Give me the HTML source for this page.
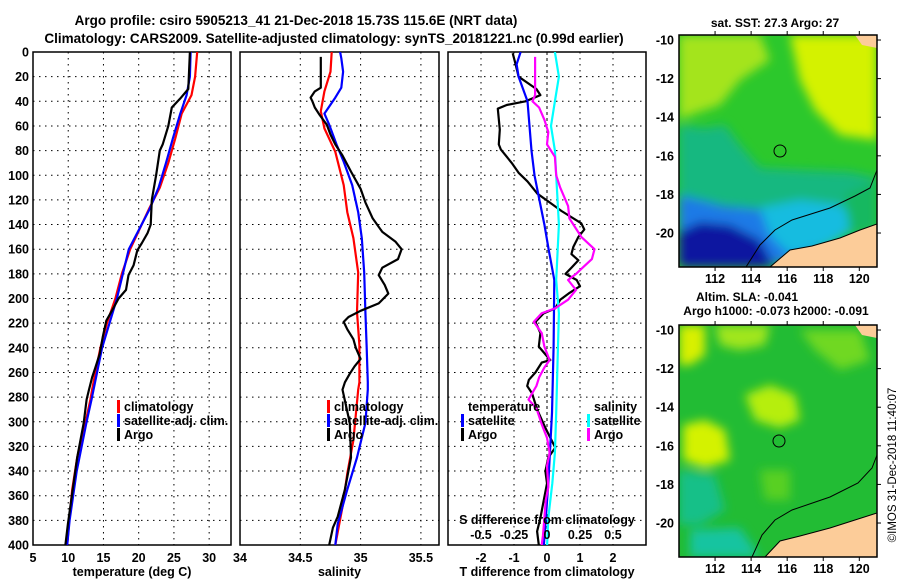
<!DOCTYPE html>
<html><head><meta charset="utf-8">
<style>
html,body{margin:0;padding:0;background:#fff;}
svg{display:block;font-family:"Liberation Sans",Arial,sans-serif;font-weight:bold;}
</style></head>
<body>
<svg id="fig" width="900" height="580" viewBox="0 0 900 580">
<defs>
<clipPath id="c1"><rect x="33" y="52" width="198" height="493"/></clipPath>
<clipPath id="c2"><rect x="240" y="52" width="199" height="493"/></clipPath>
<clipPath id="c3"><rect x="448" y="52" width="198" height="493"/></clipPath>
<clipPath id="m1"><rect x="679" y="35" width="198" height="232"/></clipPath>
<clipPath id="m2"><rect x="679" y="325" width="198" height="232"/></clipPath>
<filter id="bl" x="-20%" y="-20%" width="140%" height="140%"><feGaussianBlur stdDeviation="5"/></filter>
</defs>
<g font-size="13.5" text-anchor="middle">
<text x="296" y="25">Argo profile: csiro 5905213_41 21-Dec-2018 15.73S 115.6E (NRT data)</text>
<text x="334" y="43">Climatology: CARS2009. Satellite-adjusted climatology: synTS_20181221.nc (0.99d earlier)</text>
</g>
<g id="plots"></g>

<!-- Map 1 -->
<g>
<g clip-path="url(#m1)">
<rect x="679" y="35" width="198" height="232" fill="#2cc82c"/>
<g filter="url(#bl)">
<polygon points="679,35 760,35 770,60 740,80 720,105 690,115 679,120" fill="#a4e41c"/>
<polygon points="790,35 877,35 877,140 840,135 815,110 800,80" fill="#d4f200"/>
<polygon points="679,125 705,128 725,125 740,145 760,168 800,170 850,172 877,178 877,215 830,225 770,215 730,205 679,200" fill="#14b880"/>
<polygon points="679,195 720,205 760,210 790,205 830,215 850,225 820,250 790,262 679,267" fill="#1a7ae6"/>
<polygon points="760,208 800,200 840,205 860,225 830,245 790,255 770,235" fill="#18bce0"/>
<polygon points="679,232 700,222 730,225 760,240 775,267 679,267" fill="#0818a0"/>
<polygon points="845,195 877,180 877,230 850,235" fill="#14b860"/>
</g>
<polygon points="770,267 790,250 812,246 840,238 860,230 877,224 877,267" fill="#fccc99"/>
<polygon points="855,35 877,35 877,48 862,45" fill="#fccc99"/>
<polyline points="746,267 760,245 775,230 792,220 830,208 855,196 870,188 877,170" fill="none" stroke="#000" stroke-width="1"/>
<polyline points="770,267 790,250 812,246 840,238 860,230 877,224" fill="none" stroke="#000" stroke-width="1"/>
</g>
<rect x="679" y="35" width="198" height="232" fill="none" stroke="#000" stroke-width="1.5"/>
<circle cx="780" cy="151" r="6" fill="none" stroke="#000" stroke-width="1"/>
<text x="775" y="27" text-anchor="middle" font-size="12">sat. SST: 27.3 Argo: 27</text>
</g>

<!-- Map 2 -->
<g>
<g clip-path="url(#m2)">
<rect x="679" y="325" width="198" height="232" fill="#22bc34"/>
<g filter="url(#bl)">
<polygon points="679,325 705,325 705,355 690,365 679,365" fill="#d8f000"/>
<polygon points="715,325 770,325 765,345 740,350 720,345" fill="#a0e61c"/>
<polygon points="800,330 860,330 870,360 840,370 815,350" fill="#70d820"/>
<polygon points="745,395 770,385 795,395 800,420 780,428 755,420" fill="#b6ee10"/>
<polygon points="683,425 705,420 725,430 730,460 705,468 683,460" fill="#d4f200"/>
<polygon points="679,470 715,475 725,510 700,525 679,525" fill="#12c088"/>
<polygon points="690,530 740,528 760,557 690,557" fill="#14c4a0"/>
<polygon points="760,470 790,470 790,500 765,500" fill="#58d020"/>
</g>
<polygon points="765,557 780,541 800,536 830,528 855,520 877,513 877,557" fill="#fccc99"/>
<polygon points="855,325 877,325 877,338 862,335" fill="#fccc99"/>
<polyline points="752,557 762,535 775,520 792,510 830,497 858,483 872,468 877,455" fill="none" stroke="#000" stroke-width="1"/>
<polyline points="765,557 780,541 800,536 830,528 855,520 877,513" fill="none" stroke="#000" stroke-width="1"/>
</g>
<rect x="679" y="325" width="198" height="232" fill="none" stroke="#000" stroke-width="1.5"/>
<circle cx="779" cy="441" r="6" fill="none" stroke="#000" stroke-width="1"/>
<text x="747" y="301" text-anchor="middle" font-size="12">Altim. SLA: -0.041</text>
<text x="776" y="315" text-anchor="middle" font-size="12">Argo h1000: -0.073 h2000: -0.091</text>
</g>
<g id="maplabels" font-size="12"></g>
<text transform="translate(896,465) rotate(-90)" text-anchor="middle" font-size="11.5" font-weight="normal">©IMOS 31-Dec-2018 11:40:07</text>
</svg>
<script>
// ---- data ----
const depthTicks = [0,20,40,60,80,100,120,140,160,180,200,220,240,260,280,300,320,340,360,380,400];
const tempTicks = [5,10,15,20,25,30];
const salTicks = [34,34.5,35,35.5];
const tdiffTicks = [-2,-1,0,1,2];
const sdiffTicks = [-0.5,-0.25,0,0.25,0.5];
const sdiffTickLabels = ["-0.5","-0.25","0","0.25","0.5"];

const tClimDepth = [0,20,35,50,70,90,110,128,160,180,200,220,240,260,274,282,301,329,355,383,400];
const tClimVal   = [28.3,28.0,27.5,26.1,25.2,24.2,23.0,21.4,18.8,17.6,16.7,15.5,14.56,13.86,13.39,13.15,12.44,11.27,10.56,10.09,9.86];
const tSatDepth  = [0,20,35,50,70,90,110,128,160,200,240,282,300,340,380,400];
const tSatVal    = [27.36,27.27,26.8,25.9,24.86,23.87,22.83,21.5,18.6,16.9,14.8,13.3,12.6,11.2,10.2,9.86];
const tArgoDepth = [0,30,38,45,60,75,80,100,120,140,147,155,161,173,181,193,200,210,218,231,245,256,264,275,282,301,329,383,400];
const tArgoVal   = [27.27,27.04,25.86,24.7,24.2,23.4,23.0,22.47,21.86,21.7,21.25,20.45,19.8,19.27,18.56,18.2,17.15,16.2,15.4,14.9,14.46,13.86,13.39,12.9,12.6,12.2,11.27,9.95,9.6];

const sClimDepth = [0,16,32,48,62,81,108,130,151,179,211,238,268,274,315,342,369,400];
const sClimVal   = [34.76,34.75,34.70,34.67,34.70,34.79,34.86,34.89,34.94,34.98,34.97,34.99,34.99,34.98,34.94,34.89,34.85,34.79];
const sSatDepth  = [0,5,16,29,37,50,59,75,89,108,130,151,179,211,238,268,274,301,329,355,383,400];
const sSatVal    = [34.83,34.84,34.855,34.84,34.79,34.70,34.74,34.80,34.86,34.93,34.98,35.01,35.03,35.04,35.05,35.06,35.06,35.04,34.97,34.89,34.81,34.79];
const sArgoDepth = [4,29,32,37,40,45,51,59,67,75,84,97,111,122,135,146,154,160,168,175,181,189,196,204,210,215,219,225,233,240,249,255,261,268,274,301,329,355,377,386,400];
const sArgoVal   = [34.67,34.67,34.62,34.585,34.60,34.62,34.66,34.72,34.75,34.79,34.85,34.92,35.0,35.04,35.10,35.18,35.29,35.34,35.31,35.18,35.15,35.20,35.23,35.15,35.0,34.9,34.86,34.89,34.94,34.96,35.0,34.95,34.91,34.87,34.85,34.91,34.92,34.87,34.81,34.77,34.74];

const dTSatDepth = [0,10,20,40,60,80,100,120,140,160,185,239,293,350,402];
const dTSatVal   = [-0.8,-0.92,-0.86,-0.59,-0.53,-0.47,-0.38,-0.23,-0.08,0.05,0.22,0.2,0.15,0.04,-0.1];
const dTArgoDepth = [1,10,20,30,35,40,43,46,63,75,79,90,98,105,115,122,129,139,144,150,158,164,169,175,180,185,190,196,201,208,212,219,228,239,250,252,260,266,271,277,290,305,313,321,329,340,350,364,378,389,400];
const dTArgoVal   = [-1.04,-0.95,-0.86,-0.32,-0.2,-0.65,-1.22,-1.49,-1.43,-1.46,-1.4,-1.07,-0.86,-0.59,-0.29,0.08,0.44,1.04,1.13,0.95,0.8,0.74,0.95,0.74,0.56,0.9,1.0,0.65,0.4,0.25,-0.1,-0.35,-0.2,-0.25,0.1,-0.16,-0.35,-0.55,-0.6,-0.45,-0.3,-0.05,0.1,0.25,0.04,-0.05,0,-0.1,-0.2,-0.3,-0.25];
const dSSatDepth = [0,20,40,60,80,100,140,185,212,250,293,325,350,378,402];
const dSSatVal   = [0.06,0.09,0.06,0.03,0.06,0.07,0.09,0.07,0.09,0.08,0.07,0.06,0.04,0.01,0];
const dSArgoDepth = [4,35,40,45,55,65,75,85,100,110,125,135,150,160,168,175,180,185,193,201,208,212,219,228,239,250,256,264,271,282,289,302,313,325,336,353,364,378,392,400];
const dSArgoVal   = [-0.09,-0.09,-0.11,-0.06,-0.02,0.01,0,0.06,0.07,0.1,0.16,0.17,0.26,0.36,0.34,0.27,0.22,0.16,0.22,0.16,0.06,-0.04,-0.1,-0.04,-0.02,0.02,-0.02,-0.06,-0.08,-0.14,-0.08,-0.04,0,0.02,0,0.01,-0.01,-0.02,-0.03,-0.04];

const mapLonTicks = [112,114,116,118,120];
const mapLatTicks = [-10,-12,-14,-16,-18,-20];

// ---- axes ----
const NS = "http://www.w3.org/2000/svg";
const yTop = 52, yBot = 545;
function yD(d){ return yTop + d*(yBot-yTop)/400; }
const panels = [
  {x0:33, x1:231, lo:5, hi:33.1, clip:"c1", name:"temperature-panel"},
  {x0:240, x1:439, lo:34.0, hi:35.65, clip:"c2", name:"salinity-panel"},
  {x0:448, x1:646, lo:-3, hi:3, clip:"c3", name:"difference-panel"}
];
function xs(p,v){ return p.x0 + (v-p.lo)*(p.x1-p.x0)/(p.hi-p.lo); }
const sP = {x0:448, x1:646, lo:-0.75, hi:0.75};
const root = document.getElementById('plots');
function mk(tag, attrs, parent){ const e=document.createElementNS(NS,tag); for(const k in attrs) e.setAttribute(k,attrs[k]); (parent||root).appendChild(e); return e; }

const xTickSets = [tempTicks, salTicks, tdiffTicks];
const xTitles = ["temperature (deg C)","salinity","T difference from climatology"];
panels.forEach((p,i)=>{
  const g = mk('g',{});
  
  
  // grid
  depthTicks.forEach(d=>{ if(d>0&&d<400){ const l=mk('line',{x1:p.x0,x2:p.x1,y1:yD(d),y2:yD(d),stroke:'#000','stroke-width':1,'stroke-dasharray':'1.5,4.5'},g);
      }});
  xTickSets[i].forEach(v=>{ const x=xs(p,v); if(x>p.x0+1&&x<p.x1-1){ const l=mk('line',{x1:x,x2:x,y1:yTop,y2:yBot,stroke:'#000','stroke-width':1,'stroke-dasharray':(i==2&&v==0)?'3,3':'1.5,4.5'},g);
      }
    const t=mk('text',{x:x,y:562,'text-anchor':'middle','font-size':12.5},g); t.textContent=String(v);
      });
  const tt=mk('text',{x:(p.x0+p.x1)/2,y:576,'text-anchor':'middle','font-size':12.5},g); tt.textContent=xTitles[i];
   
  const fr=mk('rect',{x:p.x0,y:yTop,width:p.x1-p.x0,height:yBot-yTop,fill:'none',stroke:'#000','stroke-width':1.5},g);
   
});
depthTicks.forEach(d=>{ const t=mk('text',{x:29,y:yD(d)+4.5,'text-anchor':'end','font-size':12.5}); t.textContent=String(d);
    });

function series(p, clip, depths, vals, color, name){
  const pts = depths.map((d,k)=> xs(p,vals[k]).toFixed(1)+","+yD(d).toFixed(1)).join(" ");
  const pl = mk('polyline',{points:pts,fill:'none',stroke:color,'stroke-width':2.2,'stroke-linejoin':'round','clip-path':'url(#'+clip+')'});
  
  
}
series(panels[0],'c1',tClimDepth,tClimVal,'#f00','temp-climatology-line');
series(panels[0],'c1',tSatDepth,tSatVal,'#00f','temp-satellite-line');
series(panels[0],'c1',tArgoDepth,tArgoVal,'#000','temp-argo-line');
series(panels[1],'c2',sClimDepth,sClimVal,'#f00','sal-climatology-line');
series(panels[1],'c2',sSatDepth,sSatVal,'#00f','sal-satellite-line');
series(panels[1],'c2',sArgoDepth,sArgoVal,'#000','sal-argo-line');
series(panels[2],'c3',dTArgoDepth,dTArgoVal,'#000','tdiff-argo-line');
series(panels[2],'c3',dTSatDepth,dTSatVal,'#00f','tdiff-satellite-line');
series(sP,'c3',dSSatDepth,dSSatVal,'#0ff','sdiff-satellite-line');
series(sP,'c3',dSArgoDepth,dSArgoVal,'#f0f','sdiff-argo-line');

// S difference axis labels
const sdt = mk('text',{x:547,y:524,'text-anchor':'middle','font-size':12.5}); sdt.textContent="S difference from climatology";
 
sdiffTicks.forEach((v,k)=>{ const t=mk('text',{x:xs(sP,v),y:539,'text-anchor':'middle','font-size':12.5}); t.textContent=sdiffTickLabels[k];
    });

// legends
function legend(x,y,color,label,name){
  if(color){ const r=mk('rect',{x:x,y:y-11,width:3,height:13,fill:color});   }
  const t=mk('text',{x:x+7,y:y,'font-size':12.5}); t.textContent=label;
   
}
legend(117,411,'#f00','climatology','legend-climatology');
legend(117,425,'#00f','satellite-adj. clim.','legend-satellite');
legend(117,439,'#000','Argo','legend-argo');
legend(327,411,'#f00','climatology','legend-sal-climatology');
legend(327,425,'#00f','satellite-adj. clim.','legend-sal-satellite');
legend(327,439,'#000','Argo','legend-sal-argo');
legend(461,411,null,'temperature','legend-temperature-header');
legend(461,425,'#00f','satellite','legend-tdiff-satellite');
legend(461,439,'#000','Argo','legend-tdiff-argo');
legend(587,411,null,'salinity','legend-salinity-header');
legend(587,425,'#0ff','satellite','legend-sdiff-satellite');
legend(587,439,'#f0f','Argo','legend-sdiff-argo');

// map labels
const ml = document.getElementById('maplabels');
[[35,267],[325,557]].forEach(([top,bot],mi)=>{
  mapLonTicks.forEach(lon=>{ const x=679+(lon-110)*18.03;
    const t=mk('text',{x:x,y:bot+16,'text-anchor':'middle','font-size':12.5},ml); t.textContent=String(lon);
     
    mk('line',{x1:x,x2:x,y1:top-4,y2:top,stroke:'#000'},ml); mk('line',{x1:x,x2:x,y1:bot,y2:bot+4,stroke:'#000'},ml); });
  mapLatTicks.forEach(lat=>{ const y=top+(-9.74-lat)*19.3;
    const t=mk('text',{x:674,y:y+4.5,'text-anchor':'end','font-size':12.5},ml); t.textContent=String(lat);
     
    mk('line',{x1:877,x2:881,y1:y,y2:y,stroke:'#000'},ml); });
});
</script>
</body></html>
